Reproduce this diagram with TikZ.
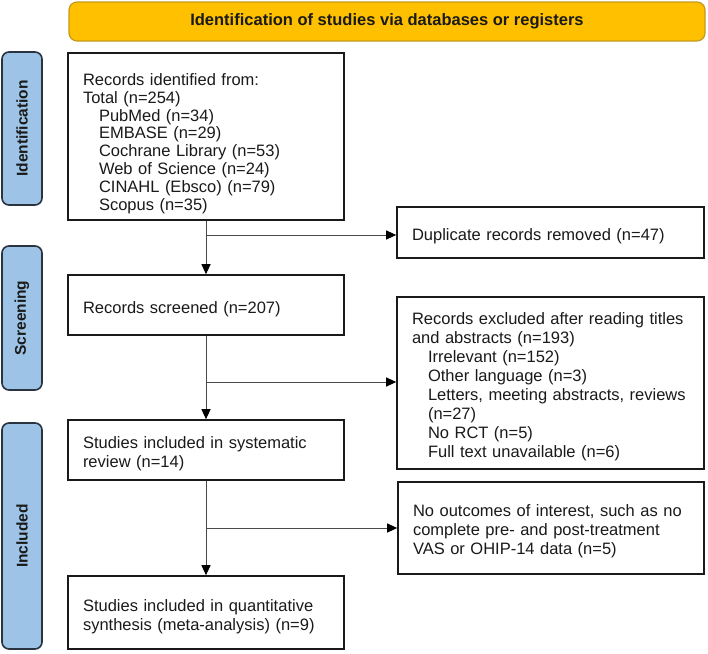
\documentclass[tikz,border=0pt]{standalone}
\usepackage{fontspec}
\setmainfont{Liberation Sans}
\usetikzlibrary{arrows.meta}
\definecolor{gold}{HTML}{FFC000}
\definecolor{goldedge}{HTML}{C49A1C}
\definecolor{lblue}{HTML}{9DC3E6}
\definecolor{labedge}{HTML}{2A3340}
\definecolor{ink}{HTML}{1A1A1A}
\definecolor{connc}{HTML}{4A4A4A}
\newcommand{\ind}{\hspace*{16pt}}
\newcommand{\st}[1]{\rule{0pt}{#1pt}}
\begin{document}
\begin{tikzpicture}[x=1pt,y=-1pt,
  box/.style={draw=ink, line width=1.6pt, fill=white, text=ink, align=left,
    inner xsep=15pt, inner ysep=0pt, font=\fontsize{16.5}{19}\selectfont},
  lab/.style={draw=labedge, line width=1.6pt, fill=lblue, rounded corners=7pt,
    rotate=90, font=\bfseries\fontsize{15.5}{19}\selectfont, text=ink,
    minimum height=40pt, inner sep=0pt},
  banner/.style={draw=goldedge, line width=1.2pt, fill=gold, rounded corners=8pt,
    minimum width=636pt, minimum height=39pt, inner sep=0pt, text=ink,
    font=\bfseries\fontsize{16.5}{19}\selectfont},
  conn/.style={draw=connc, line width=1pt,
    -{Triangle[length=10pt,width=9pt,color=black]}}
]
\useasboundingbox (0,0) rectangle (708,653);

% banner
\node[banner] (ban) at (387,21.5) {Identification of studies via databases or registers};

% phase labels
\node[lab, minimum width=153pt] (lid) at (22,128.5) {Identification};
\node[lab, minimum width=144pt] (lsc) at (22,318) {Screening};
\node[lab, minimum width=226pt] (lin) at (22,536) {Included};

% boxes
\node[box, minimum width=276pt, minimum height=167pt, text width=246pt,
  font=\fontsize{16.5}{17.8}\selectfont] (rec) at (206,136.5)
  {\st{26}Records identified from:\\Total (n=254)\\\ind PubMed (n=34)\\\ind EMBASE (n=29)\\\ind Cochrane Library (n=53)\\\ind Web of Science (n=24)\\\ind CINAHL (Ebsco) (n=79)\\\ind Scopus (n=35)};

\node[box, minimum width=307pt, minimum height=51pt, text width=277pt] (dup) at (550.5,232.5)
  {\st{19}Duplicate records removed (n=47)};

\node[box, minimum width=276pt, minimum height=60pt, text width=246pt] (scr) at (206,305)
  {\st{20}Records screened (n=207)};

\node[box, minimum width=307pt, minimum height=172pt, text width=277pt] (exc) at (550.5,383)
  {\st{19}Records excluded after reading titles\\and abstracts (n=193)\\\ind Irrelevant (n=152)\\\ind Other language (n=3)\\\ind Letters, meeting abstracts, reviews\\\ind (n=27)\\\ind No RCT (n=5)\\\ind Full text unavailable (n=6)};

\node[box, minimum width=276pt, minimum height=60pt, text width=246pt] (sys) at (206,450)
  {\st{20}Studies included in systematic\\review (n=14)};

\node[box, minimum width=306pt, minimum height=92pt, text width=276pt] (noo) at (551,528)
  {\st{19}No outcomes of interest, such as no\\complete pre- and post-treatment\\VAS or OHIP-14 data (n=5)};

\node[box, minimum width=276pt, minimum height=73pt, text width=246pt] (met) at (206,612.5)
  {\st{20}Studies included in quantitative\\synthesis (meta-analysis) (n=9)};

% connectors
\coordinate (b1) at (206,235);
\coordinate (b2) at (206,382);
\coordinate (b3) at (206,528);
\draw[conn] (rec.south) -- (scr.north);
\draw[conn] (b1) -- (b1 -| dup.west);
\draw[conn] (scr.south) -- (sys.north);
\draw[conn] (b2) -- (b2 -| exc.west);
\draw[conn] (sys.south) -- (met.north);
\draw[conn] (b3) -- (b3 -| noo.west);
\end{tikzpicture}
\end{document}
